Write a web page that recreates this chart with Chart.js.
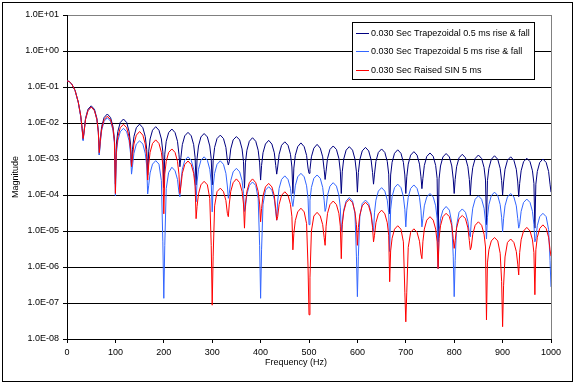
<!DOCTYPE html>
<html>
<head>
<meta charset="utf-8">
<script src="https://cdn.jsdelivr.net/npm/chart.js@4"></script>
<style>
  html, body { margin: 0; padding: 0; background: #fff; }
  canvas { display: block; }
</style>
</head>
<body>
<canvas id="spectrum-chart" width="576" height="385"></canvas>
<script>
// frequency points (Hz), one row per 33.3 Hz lobe
const freq = [
    0, 2, 5, 10, 16.7, 23.3, 28.3, 31.3,
    33.3, 35.3, 38.3, 43.3, 50, 56.7, 61.7, 64.7,
    66.7, 68.7, 71.7, 76.7, 83.3, 90, 95, 98,
    100, 102, 105, 110, 116.7, 123.3, 128.3, 131.3,
    133.3, 135.3, 138.3, 143.3, 150, 156.7, 161.7, 164.7,
    166.7, 168.7, 171.7, 176.7, 183.3, 190, 195, 198,
    200, 202, 205, 210, 216.7, 223.3, 228.3, 231.3,
    233.3, 235.3, 238.3, 243.3, 250, 256.7, 261.7, 264.7,
    266.7, 268.7, 271.7, 276.7, 283.3, 290, 295, 298,
    300, 302, 305, 310, 316.7, 323.3, 328.3, 331.3,
    333.3, 335.3, 338.3, 343.3, 350, 356.7, 361.7, 364.7,
    366.7, 368.7, 371.7, 376.7, 383.3, 390, 395, 398,
    400, 402, 405, 410, 416.7, 423.3, 428.3, 431.3,
    433.3, 435.3, 438.3, 443.3, 450, 456.7, 461.7, 464.7,
    466.7, 468.7, 471.7, 476.7, 483.3, 490, 495, 498,
    500, 502, 505, 510, 516.7, 523.3, 528.3, 531.3,
    533.3, 535.3, 538.3, 543.3, 550, 556.7, 561.7, 564.7,
    566.7, 568.7, 571.7, 576.7, 583.3, 590, 595, 598,
    600, 602, 605, 610, 616.7, 623.3, 628.3, 631.3,
    633.3, 635.3, 638.3, 643.3, 650, 656.7, 661.7, 664.7,
    666.7, 668.7, 671.7, 676.7, 683.3, 690, 695, 698,
    700, 702, 705, 710, 716.7, 723.3, 728.3, 731.3,
    733.3, 735.3, 738.3, 743.3, 750, 756.7, 761.7, 764.7,
    766.7, 768.7, 771.7, 776.7, 783.3, 790, 795, 798,
    800, 802, 805, 810, 816.7, 823.3, 828.3, 831.3,
    833.3, 835.3, 838.3, 843.3, 850, 856.7, 861.7, 864.7,
    866.7, 868.7, 871.7, 876.7, 883.3, 890, 895, 898,
    900, 902, 905, 910, 916.7, 923.3, 928.3, 931.3,
    933.3, 935.3, 938.3, 943.3, 950, 956.7, 961.7, 964.7,
    966.7, 968.7, 971.7, 976.7, 983.3, 990, 995, 998,
    1000
];

// 0.030 s trapezoidal, 0.5 ms rise & fall
const trap05 = [
    1.47e-1, 1.46e-1, 1.4e-1, 1.2e-1, 8.0e-2, 3.8e-2, 1.6e-2, 7.0e-3,
    3.4e-3, 6.0e-3, 1.35e-2, 2.4e-2, 3.0e-2, 2.4e-2, 1.35e-2, 6.0e-3,
    1.3e-3, 3.6e-3, 8.0e-3, 1.42e-2, 1.78e-2, 1.42e-2, 8.0e-3, 3.6e-3,
    2.0e-4, 2.6e-3, 5.8e-3, 1.03e-2, 1.29e-2, 1.03e-2, 5.8e-3, 2.6e-3,
    6.2e-4, 1.86e-3, 4.2e-3, 7.4e-3, 9.3e-3, 7.4e-3, 4.2e-3, 1.86e-3,
    3.6e-4, 1.58e-3, 3.6e-3, 6.3e-3, 7.9e-3, 6.3e-3, 3.6e-3, 1.58e-3,
    1.6e-4, 1.36e-3, 3.1e-3, 5.4e-3, 6.8e-3, 5.4e-3, 3.1e-3, 1.36e-3,
    6.1e-4, 1.1e-3, 2.5e-3, 4.4e-3, 5.5e-3, 4.4e-3, 2.5e-3, 1.1e-3,
    1.9e-4, 1.02e-3, 2.3e-3, 4.1e-3, 5.1e-3, 4.1e-3, 2.3e-3, 1.02e-3,
    1.9e-4, 9.2e-4, 2.1e-3, 3.7e-3, 4.6e-3, 3.7e-3, 2.1e-3, 9.2e-4,
    6.8e-4, 8.4e-4, 1.9e-3, 3.4e-3, 4.2e-3, 3.4e-3, 1.9e-3, 8.4e-4,
    1.55e-4, 7.8e-4, 1.75e-3, 3.1e-3, 3.9e-3, 3.1e-3, 1.75e-3, 7.8e-4,
    2.6e-4, 6.6e-4, 1.49e-3, 2.6e-3, 3.3e-3, 2.6e-3, 1.49e-3, 6.6e-4,
    3.8e-4, 6.0e-4, 1.35e-3, 2.4e-3, 3.0e-3, 2.4e-3, 1.35e-3, 6.0e-4,
    1.1e-4, 5.6e-4, 1.26e-3, 2.2e-3, 2.8e-3, 2.2e-3, 1.26e-3, 5.6e-4,
    4.0e-4, 5.1e-4, 1.15e-3, 2.0e-3, 2.55e-3, 2.0e-3, 1.15e-3, 5.1e-4,
    2.7e-4, 4.6e-4, 1.04e-3, 1.84e-3, 2.3e-3, 1.84e-3, 1.04e-3, 4.6e-4,
    1.1e-4, 4.4e-4, 9.9e-4, 1.76e-3, 2.2e-3, 1.76e-3, 9.9e-4, 4.4e-4,
    1.2e-4, 4.2e-4, 9.5e-4, 1.68e-3, 2.1e-3, 1.68e-3, 9.5e-4, 4.2e-4,
    2.0e-4, 3.8e-4, 8.6e-4, 1.52e-3, 1.9e-3, 1.52e-3, 8.6e-4, 3.8e-4,
    3.0e-5, 3.6e-4, 8.1e-4, 1.44e-3, 1.8e-3, 1.44e-3, 8.1e-4, 3.6e-4,
    1.1e-4, 3.2e-4, 7.2e-4, 1.28e-3, 1.6e-3, 1.28e-3, 7.2e-4, 3.2e-4,
    1.5e-4, 2.9e-4, 6.6e-4, 1.18e-3, 1.47e-3, 1.18e-3, 6.6e-4, 2.9e-4,
    5.0e-6, 2.8e-4, 6.4e-4, 1.14e-3, 1.42e-3, 1.14e-3, 6.4e-4, 2.8e-4,
    1.1e-4, 2.7e-4, 6.1e-4, 1.08e-3, 1.35e-3, 1.08e-3, 6.1e-4, 2.7e-4,
    1.0e-4, 2.6e-4, 5.8e-4, 1.03e-3, 1.29e-3, 1.03e-3, 5.8e-4, 2.6e-4,
    1.5e-5, 2.5e-4, 5.5e-4, 9.8e-4, 1.23e-3, 9.8e-4, 5.5e-4, 2.5e-4,
    1.0e-4, 2.3e-4, 5.2e-4, 9.2e-4, 1.15e-3, 9.2e-4, 5.2e-4, 2.3e-4,
    9.0e-5, 2.1e-4, 4.7e-4, 8.4e-4, 1.05e-3, 8.4e-4, 4.7e-4, 2.1e-4,
    1.2e-5, 2.0e-4, 4.5e-4, 8.0e-4, 1.0e-3, 8.0e-4, 4.5e-4, 2.0e-4,
    1.2e-4
];

// 0.030 s trapezoidal, 5 ms rise & fall
const trap5 = [
    1.47e-1, 1.46e-1, 1.4e-1, 1.2e-1, 8.0e-2, 3.7e-2, 1.5e-2, 6.5e-3,
    3.2e-3, 5.6e-3, 1.26e-2, 2.2e-2, 2.8e-2, 2.2e-2, 1.26e-2, 5.6e-3,
    1.3e-3, 2.8e-3, 6.3e-3, 1.12e-2, 1.4e-2, 1.12e-2, 6.3e-3, 2.8e-3,
    9.5e-5, 1.42e-3, 3.2e-3, 5.7e-3, 7.1e-3, 5.7e-3, 3.2e-3, 1.42e-3,
    3.8e-4, 6.4e-4, 1.44e-3, 2.6e-3, 3.2e-3, 2.6e-3, 1.44e-3, 6.4e-4,
    1.07e-4, 1.8e-4, 4.1e-4, 7.2e-4, 9.0e-4, 7.2e-4, 2.5e-4, 5.0e-6,
    1.35e-7, 4.0e-6, 1.5e-4, 4.2e-4, 5.9e-4, 4.7e-4, 2.7e-4, 1.18e-4,
    8.9e-5, 2.3e-4, 5.2e-4, 9.2e-4, 1.15e-3, 9.2e-4, 5.2e-4, 2.3e-4,
    6.5e-5, 2.3e-4, 5.2e-4, 9.2e-4, 1.15e-3, 9.2e-4, 5.2e-4, 2.3e-4,
    3.4e-5, 1.78e-4, 4.0e-4, 7.1e-4, 8.9e-4, 7.1e-4, 4.0e-4, 1.78e-4,
    8.1e-5, 1.1e-4, 2.5e-4, 4.4e-4, 5.5e-4, 4.4e-4, 2.5e-4, 1.1e-4,
    3.5e-5, 4.6e-5, 1.04e-4, 1.84e-4, 2.3e-4, 1.84e-4, 8.0e-5, 4.0e-6,
    1.35e-7, 3.0e-6, 5.5e-5, 1.36e-4, 1.7e-4, 1.36e-4, 7.7e-5, 3.4e-5,
    2.0e-5, 6.8e-5, 1.53e-4, 2.7e-4, 3.4e-4, 2.7e-4, 1.53e-4, 6.8e-5,
    4.8e-5, 8.0e-5, 1.8e-4, 3.2e-4, 4.0e-4, 3.2e-4, 1.8e-4, 8.0e-5,
    1.5e-5, 7.2e-5, 1.62e-4, 2.9e-4, 3.6e-4, 2.9e-4, 1.62e-4, 7.2e-5,
    3.5e-5, 4.4e-5, 9.9e-5, 1.76e-4, 2.2e-4, 1.76e-4, 9.9e-5, 4.4e-5,
    9.5e-6, 1.7e-5, 3.8e-5, 6.8e-5, 8.5e-5, 6.8e-5, 3.0e-5, 2.0e-6,
    1.5e-7, 2.0e-6, 2.5e-5, 5.8e-5, 7.2e-5, 5.8e-5, 3.2e-5, 1.44e-5,
    9.5e-6, 3.2e-5, 7.2e-5, 1.28e-4, 1.6e-4, 1.28e-4, 7.2e-5, 3.2e-5,
    2.7e-6, 4.0e-5, 9.0e-5, 1.6e-4, 2.0e-4, 1.6e-4, 9.0e-5, 4.0e-5,
    1.3e-5, 3.8e-5, 8.6e-5, 1.52e-4, 1.9e-4, 1.52e-4, 8.6e-5, 3.8e-5,
    1.3e-5, 2.2e-5, 5.0e-5, 8.8e-5, 1.1e-4, 8.8e-5, 5.0e-5, 2.2e-5,
    9.0e-7, 9.6e-6, 2.2e-5, 3.8e-5, 4.8e-5, 3.8e-5, 1.7e-5, 2.0e-6,
    1.5e-7, 1.5e-6, 1.4e-5, 3.3e-5, 4.1e-5, 3.3e-5, 1.85e-5, 8.2e-6,
    6.9e-6, 1.9e-5, 4.3e-5, 7.6e-5, 9.5e-5, 7.6e-5, 4.3e-5, 1.9e-5,
    6.0e-6, 2.4e-5, 5.4e-5, 9.6e-5, 1.2e-4, 9.6e-5, 5.4e-5, 2.4e-5,
    9.5e-6, 2.2e-5, 5.0e-5, 8.8e-5, 1.1e-4, 8.8e-5, 5.0e-5, 2.2e-5,
    1.2e-5, 1.54e-5, 3.5e-5, 6.2e-5, 7.7e-5, 6.2e-5, 3.5e-5, 1.54e-5,
    5.0e-6, 6.2e-6, 1.4e-5, 2.5e-5, 3.1e-5, 2.5e-5, 1.1e-5, 1.5e-6,
    2.8e-7
];

// 0.030 s raised SIN, 5 ms
const raisedSin = [
    1.47e-1, 1.46e-1, 1.4e-1, 1.2e-1, 8.0e-2, 3.8e-2, 1.6e-2, 7.0e-3,
    3.7e-3, 5.6e-3, 1.26e-2, 2.2e-2, 2.8e-2, 2.2e-2, 1.26e-2, 5.6e-3,
    1.5e-3, 3.1e-3, 7.0e-3, 1.24e-2, 1.55e-2, 1.24e-2, 7.0e-3, 3.1e-3,
    1.1e-4, 1.84e-3, 4.1e-3, 7.4e-3, 9.2e-3, 7.4e-3, 4.1e-3, 1.84e-3,
    6.2e-4, 1.16e-3, 2.6e-3, 4.6e-3, 5.8e-3, 4.6e-3, 2.6e-3, 1.16e-3,
    2.6e-4, 6.8e-4, 1.53e-3, 2.7e-3, 3.4e-3, 2.7e-3, 1.53e-3, 6.8e-4,
    3.0e-5, 3.8e-4, 8.6e-4, 1.52e-3, 1.9e-3, 1.52e-3, 8.6e-4, 3.8e-4,
    1.1e-4, 1.76e-4, 4.0e-4, 7.0e-4, 8.8e-4, 7.0e-4, 4.0e-4, 1.76e-4,
    2.2e-5, 4.8e-5, 1.08e-4, 1.92e-4, 2.4e-4, 1.92e-4, 8.0e-5, 4.0e-6,
    8.7e-8, 2.0e-6, 5.0e-5, 1.24e-4, 1.55e-4, 1.24e-4, 7.0e-5, 3.1e-5,
    2.5e-5, 5.6e-5, 1.26e-4, 2.2e-4, 2.8e-4, 2.2e-4, 1.26e-4, 5.6e-5,
    1.2e-5, 5.6e-5, 1.26e-4, 2.2e-4, 2.8e-4, 2.2e-4, 1.26e-4, 5.6e-5,
    1.8e-5, 4.2e-5, 9.5e-5, 1.68e-4, 2.1e-4, 1.68e-4, 9.5e-5, 4.2e-5,
    2.0e-5, 2.5e-5, 5.5e-5, 9.8e-5, 1.23e-4, 9.8e-5, 5.5e-5, 2.5e-5,
    3.0e-6, 8.6e-6, 1.94e-5, 3.4e-5, 4.3e-5, 3.4e-5, 1.6e-5, 1.0e-6,
    4.7e-8, 5.0e-7, 1.0e-5, 2.6e-5, 3.3e-5, 2.6e-5, 1.5e-5, 6.6e-6,
    4.0e-6, 1.36e-5, 3.1e-5, 5.4e-5, 6.8e-5, 5.4e-5, 3.1e-5, 1.36e-5,
    1.7e-6, 1.5e-5, 3.4e-5, 6.1e-5, 7.6e-5, 6.1e-5, 3.4e-5, 1.5e-5,
    4.0e-6, 1.26e-5, 2.8e-5, 5.0e-5, 6.3e-5, 5.0e-5, 2.8e-5, 1.26e-5,
    5.0e-6, 7.6e-6, 1.7e-5, 3.0e-5, 3.8e-5, 3.0e-5, 1.7e-5, 7.6e-6,
    3.9e-7, 2.8e-6, 6.3e-6, 1.12e-5, 1.4e-5, 1.12e-5, 5.0e-6, 2.0e-7,
    3.0e-8, 2.0e-7, 3.5e-6, 9.2e-6, 1.15e-5, 9.2e-6, 5.2e-6, 2.3e-6,
    1.7e-6, 5.0e-6, 1.13e-5, 2.0e-5, 2.5e-5, 2.0e-5, 1.13e-5, 5.0e-6,
    9.0e-7, 6.2e-6, 1.4e-5, 2.5e-5, 3.1e-5, 2.5e-5, 1.4e-5, 6.2e-6,
    3.3e-6, 5.4e-6, 1.22e-5, 2.2e-5, 2.7e-5, 2.2e-5, 1.22e-5, 5.4e-6,
    3.0e-6, 3.6e-6, 8.1e-6, 1.44e-5, 1.8e-5, 1.44e-5, 8.1e-6, 3.6e-6,
    3.4e-8, 1.3e-6, 3.0e-6, 5.3e-6, 6.6e-6, 5.3e-6, 2.4e-6, 4.0e-7,
    2.2e-8, 3.0e-7, 1.9e-6, 4.8e-6, 6.0e-6, 4.8e-6, 2.7e-6, 1.2e-6,
    6.0e-7, 2.5e-6, 5.7e-6, 1.0e-5, 1.26e-5, 1.0e-5, 5.7e-6, 2.5e-6,
    1.7e-7, 3.0e-6, 6.7e-6, 1.18e-5, 1.48e-5, 1.18e-5, 6.7e-6, 3.0e-6,
    2.0e-6
];

const seriesLabels = [
    '0.030 Sec Trapezoidal 0.5 ms rise & fall',
    '0.030 Sec Trapezoidal 5 ms rise & fall',
    '0.030 Sec Raised SIN 5 ms'
];
const yTicks = [1e-8, 1e-7, 1e-6, 1e-5, 1e-4, 1e-3, 1e-2, 1e-1, 1e0, 1e1];
const yTickLabels = ['1.0E-08', '1.0E-07', '1.0E-06', '1.0E-05', '1.0E-04',
    '1.0E-03', '1.0E-02', '1.0E-01', '1.0E+00', '1.0E+01'];
const xTitle = 'Frequency (Hz)';

const FONT = "'Liberation Sans Narrow', 'Arial Narrow', 'Liberation Sans', Arial, sans-serif";
Chart.defaults.font.family = FONT;
Chart.defaults.font.size = 9;
Chart.defaults.color = '#000';

function toPoints(values) {
    return freq.map(function (f, i) { return { x: f, y: values[i] }; });
}

// white page, outer frame, grey plot edge and the x title
const frame = {
    id: 'frame',
    beforeDraw: function (chart) {
        const c = chart.ctx;
        c.save();
        c.fillStyle = '#fff';
        c.fillRect(0, 0, chart.width, chart.height);
        c.strokeStyle = '#000';
        c.lineWidth = 1;
        c.strokeRect(2.5, 2.5, 570, 379);
        c.restore();
    },
    afterDraw: function (chart) {
        const a = chart.chartArea;
        const c = chart.ctx;
        c.save();
        c.strokeStyle = '#808080';
        c.lineWidth = 1;
        c.beginPath();
        c.moveTo(Math.round(a.right) + 0.5, a.top);
        c.lineTo(Math.round(a.right) + 0.5, a.bottom);
        c.stroke();
        // Excel centres this title on the whole chart, not on the plot area
        c.fillStyle = '#000';
        c.font = '9px ' + FONT;
        c.textAlign = 'center';
        c.textBaseline = 'middle';
        c.fillText(xTitle, 296, 363);
        c.restore();
    }
};

// boxed legend inside the plot area, top right
const legendBox = {
    id: 'legendBox',
    afterDraw: function (chart) {
        const c = chart.ctx;
        c.save();
        c.fillStyle = '#fff';
        c.fillRect(352, 22, 182, 57);
        c.strokeStyle = '#000';
        c.lineWidth = 1;
        c.strokeRect(352.5, 22.5, 182, 57);
        c.font = '9px ' + FONT;
        c.textBaseline = 'middle';
        chart.data.datasets.forEach(function (ds, i) {
            const y = Math.round(33 + i * 18.4) + 0.5;
            c.strokeStyle = ds.borderColor;
            c.beginPath();
            c.moveTo(356, y);
            c.lineTo(369, y);
            c.stroke();
            c.fillStyle = '#000';
            c.fillText(ds.label, 371, y);
        });
        c.restore();
    }
};

new Chart(document.getElementById('spectrum-chart'), {
    type: 'line',
    data: {
        datasets: [
            { label: seriesLabels[0], data: toPoints(trap05), borderColor: '#000080', order: 3 },
            { label: seriesLabels[1], data: toPoints(trap5), borderColor: '#3366FF', order: 2 },
            { label: seriesLabels[2], data: toPoints(raisedSin), borderColor: '#FF0000', order: 1 }
        ]
    },
    options: {
        responsive: false,
        animation: false,
        devicePixelRatio: 1,
        layout: { padding: { left: 0, right: 25, top: 15, bottom: 0 } },
        elements: {
            point: { radius: 0 },
            line: { borderWidth: 1, tension: 0 }
        },
        plugins: {
            legend: { display: false },
            tooltip: { enabled: false }
        },
        scales: {
            x: {
                type: 'linear',
                min: 0,
                max: 1000,
                afterFit: function (scale) { scale.height = 46; },
                ticks: {
                    stepSize: 100,
                    padding: 4,
                    maxRotation: 0,
                    callback: function (v) { return String(v); }
                },
                grid: { drawOnChartArea: false, tickLength: 4, color: '#000' },
                border: { color: '#000' }
            },
            y: {
                type: 'logarithmic',
                min: 1e-8,
                max: 10,
                afterFit: function (scale) { scale.width = 67; },
                afterBuildTicks: function (scale) {
                    scale.ticks = yTicks.map(function (v) { return { value: v }; });
                },
                ticks: {
                    autoSkip: false,
                    padding: 4,
                    callback: function (v) { return yTickLabels[yTicks.indexOf(v)]; }
                },
                grid: {
                    color: function (ctx) {
                        return ctx.tick && ctx.tick.value === 10 ? '#808080' : '#000';
                    },
                    tickColor: '#000',
                    tickLength: 4
                },
                border: { color: '#000' },
                title: { display: true, text: 'Magnitude', padding: { top: 10, bottom: 0 } }
            }
        }
    },
    plugins: [frame, legendBox]
});
</script>
</body>
</html>
